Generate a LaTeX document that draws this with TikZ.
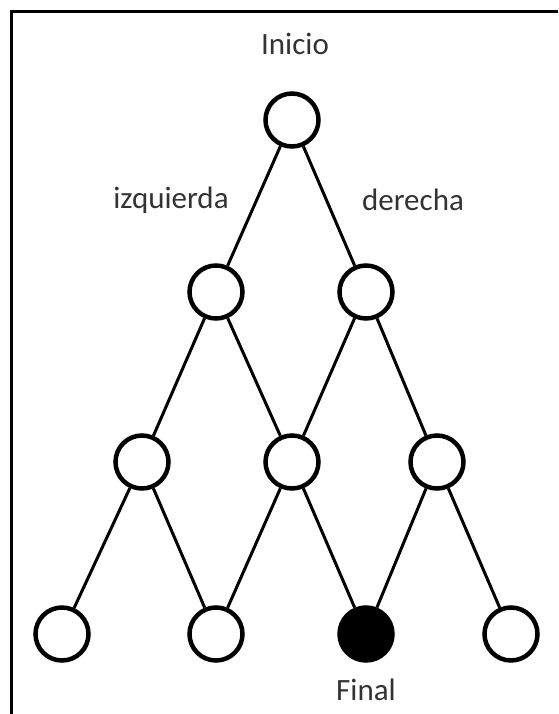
\documentclass[tikz,border=0pt]{standalone}
\usepackage{fontspec}
\setmainfont{Carlito}

\begin{document}
\begin{tikzpicture}[x = 1pt, y = -1pt,
                    state/.style = {circle, draw, line width = 4.5pt, minimum size = 53pt, inner sep = 0pt},
                    goal/.style = {state, fill = black},
                    branch/.style = {line width = 3pt},
                    frame/.style = {line width = 3pt},
                    tag/.style = {font = \fontsize{31}{37}\selectfont, text = black!80, inner sep = 0pt}]
    \useasboundingbox (0,0) rectangle (558,714);
    % frame (open at bottom and right)
    \draw[frame] (11.5,714) -- (11.5,11.5) -- (558,11.5);
    % states
    \node[state] (r) at (292,120) {};
    \node[state] (l1) at (216,292) {};
    \node[state] (r1) at (366,292) {};
    \node[state] (a2) at (142,462) {};
    \node[state] (b2) at (292,462) {};
    \node[state] (c2) at (437,462) {};
    \node[state] (a3) at (62,634) {};
    \node[state] (b3) at (216,634) {};
    \node[goal] (c3) at (366,634) {};
    \node[state] (d3) at (511,634) {};
    % branches
    \foreach \From/\To in {r/l1, r/r1, l1/a2, l1/b2, r1/b2, r1/c2,
                           a2/a3, a2/b3, b2/b3, b2/c3, c2/c3, c2/d3}
        \draw[branch] (\From) -- (\To);
    % labels
    \node[tag] (start) at (295,44) {Inicio};
    \node[tag] (left) at (171,200) {izquierda};
    \node[tag] (right) at (413,200) {derecha};
    \node[tag] (end) at (366,690) {Final};
\end{tikzpicture}
\end{document}
